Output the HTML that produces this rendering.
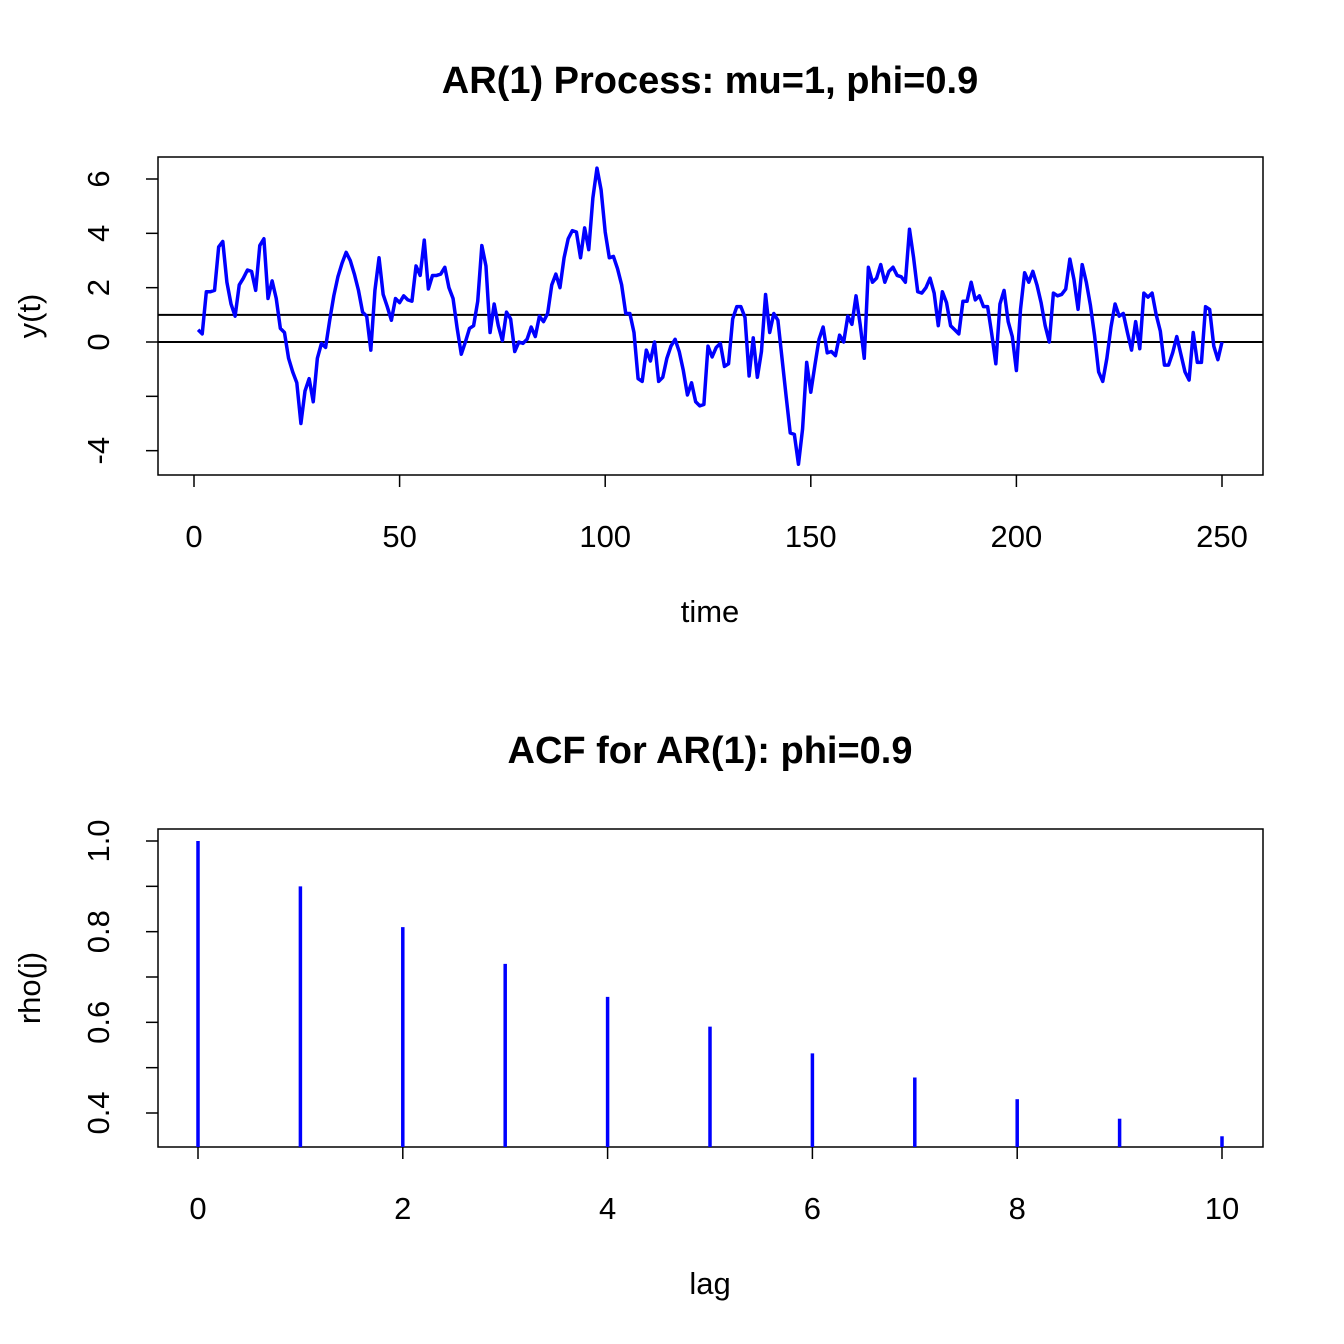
<!DOCTYPE html>
<html><head><meta charset="utf-8"><style>
html,body{margin:0;padding:0;background:#fff}
svg{display:block;font-family:"Liberation Sans",Arial,sans-serif}
</style></head><body>
<svg id="chart" width="1344" height="1344" viewBox="0 0 1344 1344">
<g id="topPanel">
<text x="710" y="93" text-anchor="middle" font-size="38" font-weight="bold">AR(1) Process: mu=1, phi=0.9</text>
<rect x="158" y="157" width="1105" height="318" fill="none" stroke="#000" stroke-width="1.5"/>
<text x="710" y="622" text-anchor="middle" font-size="31">time</text>
<text transform="translate(40,316) rotate(-90)" text-anchor="middle" font-size="31">y(t)</text>
</g>
<g id="botPanel">
<text x="710" y="763" text-anchor="middle" font-size="38" font-weight="bold">ACF for AR(1): phi=0.9</text>
<rect x="158" y="829" width="1105" height="318" fill="none" stroke="#000" stroke-width="1.5"/>
<text x="710" y="1294" text-anchor="middle" font-size="31">lag</text>
<text transform="translate(40,988) rotate(-90)" text-anchor="middle" font-size="31">rho(j)</text>
</g>
</svg>
<script>
const series = [0.45,0.3,1.85,1.85,1.9,3.5,3.7,2.2,1.4,0.95,2.1,2.35,2.65,2.6,1.9,3.55,3.8,1.6,2.25,1.6,0.5,0.35,-0.6,-1.1,-1.5,-3.0,-1.8,-1.35,-2.2,-0.6,-0.05,-0.2,0.8,1.7,2.4,2.9,3.3,3.0,2.5,1.9,1.1,0.95,-0.3,1.9,3.1,1.75,1.3,0.8,1.6,1.45,1.7,1.55,1.5,2.8,2.45,3.75,1.95,2.45,2.45,2.5,2.75,2.0,1.6,0.5,-0.45,0.0,0.5,0.6,1.5,3.55,2.8,0.35,1.4,0.6,0.05,1.1,0.85,-0.35,0.0,-0.05,0.1,0.55,0.2,0.95,0.75,1.05,2.1,2.5,2.0,3.1,3.8,4.1,4.05,3.1,4.2,3.4,5.3,6.4,5.6,4.05,3.1,3.15,2.7,2.1,1.05,1.05,0.35,-1.35,-1.45,-0.3,-0.7,0.0,-1.45,-1.3,-0.6,-0.15,0.1,-0.35,-1.05,-1.95,-1.5,-2.2,-2.35,-2.3,-0.15,-0.55,-0.2,-0.05,-0.9,-0.8,0.85,1.3,1.3,0.9,-1.25,0.15,-1.3,-0.35,1.75,0.35,1.05,0.8,-0.6,-2.0,-3.35,-3.4,-4.5,-3.2,-0.75,-1.85,-0.85,0.1,0.55,-0.4,-0.35,-0.5,0.25,0.0,0.95,0.65,1.7,0.65,-0.6,2.75,2.2,2.35,2.85,2.2,2.6,2.75,2.45,2.4,2.2,4.15,3.1,1.85,1.8,2.0,2.35,1.8,0.6,1.85,1.45,0.6,0.45,0.3,1.5,1.5,2.2,1.55,1.7,1.3,1.3,0.3,-0.8,1.4,1.9,0.75,0.2,-1.05,1.2,2.55,2.2,2.6,2.1,1.45,0.6,0.0,1.8,1.7,1.75,1.95,3.05,2.3,1.2,2.85,2.2,1.35,0.25,-1.1,-1.45,-0.6,0.55,1.4,0.95,1.05,0.35,-0.3,0.75,-0.25,1.8,1.65,1.8,1.0,0.4,-0.85,-0.85,-0.4,0.2,-0.45,-1.1,-1.4,0.35,-0.75,-0.75,1.3,1.2,-0.15,-0.65,0.0];
const topXTicks = [0,50,100,150,200,250];
const topYTicks = [-4,-2,0,2,4,6];
const topYLabels = ["-4","","0","2","4","6"];
const refLines = [0,1];
const lags = [0,1,2,3,4,5,6,7,8,9,10];
const acfValues = [1,0.9,0.81,0.729,0.6561,0.59049,0.531441,0.4782969,0.43046721,0.387420489,0.3486784401];
const botXTicks = [0,2,4,6,8,10];
const botYTicks = [0.4,0.5,0.6,0.7,0.8,0.9,1.0];
const botYLabels = ["0.4","","0.6","","0.8","","1.0"];

(function(){
const NS="http://www.w3.org/2000/svg";
function mk(parent,tag,attrs){const e=document.createElementNS(NS,tag);for(const k in attrs)e.setAttribute(k,attrs[k]);parent.appendChild(e);return e;}
const tx=t=>194+t*(1028/250);
const ty=v=>342-v*(163/6);
const bx=l=>198+l*102.4;
const by=v=>1113-(v-0.4)*(272/0.6);
const topG=document.getElementById('topPanel'), botG=document.getElementById('botPanel');

topXTicks.forEach(t=>{
 const l=mk(topG,'line',{x1:tx(t),x2:tx(t),y1:475,y2:487,stroke:'#000','stroke-width':1.5});
 
 
 const s=mk(topG,'text',{x:tx(t),y:547,'text-anchor':'middle','font-size':31});s.textContent=t;
 
 
});
topYTicks.forEach((v,i)=>{
 const l=mk(topG,'line',{x1:146,x2:158,y1:ty(v),y2:ty(v),stroke:'#000','stroke-width':1.5});
 
 
 if(topYLabels[i]){const s=mk(topG,'text',{transform:`translate(109,${ty(v)}) rotate(-90)`,'text-anchor':'middle','font-size':31});s.textContent=topYLabels[i];
 
 }
});
refLines.forEach(v=>{
 const l=mk(topG,'line',{x1:158,x2:1263,y1:ty(v),y2:ty(v),stroke:'#000','stroke-width':2});
 
 
});
const pl=mk(topG,'polyline',{points:series.map((v,i)=>tx(i+1)+','+ty(v)).join(' '),fill:'none',stroke:'#0000ff','stroke-width':3.5,'stroke-linejoin':'round'});



botXTicks.forEach(t=>{
 const l=mk(botG,'line',{x1:bx(t),x2:bx(t),y1:1147,y2:1159,stroke:'#000','stroke-width':1.5});
 
 
 const s=mk(botG,'text',{x:bx(t),y:1219,'text-anchor':'middle','font-size':31});s.textContent=t;
 
 
});
botYTicks.forEach((v,i)=>{
 const l=mk(botG,'line',{x1:146,x2:158,y1:by(v),y2:by(v),stroke:'#000','stroke-width':1.5});
 
 
 if(botYLabels[i]){const s=mk(botG,'text',{transform:`translate(109,${by(v)}) rotate(-90)`,'text-anchor':'middle','font-size':31});s.textContent=botYLabels[i];
 
 }
});
lags.forEach((l,i)=>{
 const b=mk(botG,'line',{x1:bx(l),x2:bx(l),y1:1147,y2:by(acfValues[i]),stroke:'#0000ff','stroke-width':3.5});
 
 
});
})();
</script>
</body></html>
